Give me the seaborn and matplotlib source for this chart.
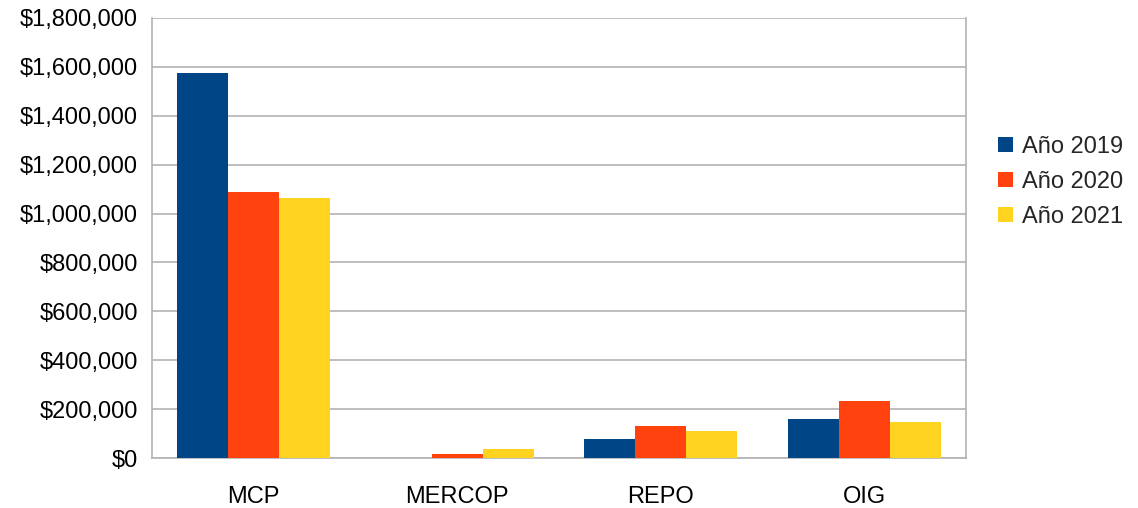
import seaborn as sns
import numpy as np
import pandas as pd
from matplotlib import pyplot as plt
from matplotlib.ticker import FuncFormatter, FixedLocator

categorias = ['MCP', 'MERCOP', 'REPO', 'OIG']
anios = ['Año 2019', 'Año 2020', 'Año 2021']
valores_2019 = [1573000, 0, 79000, 158000]
valores_2020 = [1089000, 16000, 130000, 233000]
valores_2021 = [1062000, 37000, 109000, 147000]
colores = ['#004586', '#ff420e', '#ffd320']

df = pd.DataFrame({
    'categoria': categorias * 3,
    'anio': [a for a in anios for _ in categorias],
    'valor': valores_2019 + valores_2020 + valores_2021,
})

sns.set_style('white')
plt.rcParams['font.family'] = ['Liberation Sans', 'DejaVu Sans']

fs = 17
fig = plt.figure(figsize=(11.38, 5.08), dpi=100)
ax = fig.add_axes([0.1336, 0.0984, 0.7153, 0.8662])

sns.barplot(data=df, x='categoria', y='valor', hue='anio', palette=colores,
            width=0.75, gap=0, saturation=1, errorbar=None, linewidth=0,
            ax=ax, zorder=3)

ax.set_ylim(0, 1800000)
ax.set_xlim(-0.5, 3.5)
ax.set_yticks(np.arange(0, 1800001, 200000))
ax.yaxis.set_major_formatter(FuncFormatter(lambda v, p: '${:,.0f}'.format(v)))
ax.grid(axis='y', color='#b3b3b3', linewidth=1.2, zorder=0)
ax.set_axisbelow(True)

# category boundaries as minor ticks, labels centred
ax.xaxis.set_minor_locator(FixedLocator([-0.5, 0.5, 1.5, 2.5, 3.5]))
ax.tick_params(axis='x', which='major', length=0, labelsize=fs, pad=20, labelcolor='black')
ax.tick_params(axis='x', which='minor', length=7, width=1.2, color='#b3b3b3', direction='out')
ax.tick_params(axis='y', which='major', length=7, width=1.2, color='#b3b3b3',
               direction='out', labelsize=fs, pad=3, labelcolor='black')
for s in ax.spines.values():
    s.set_color('#b3b3b3')
    s.set_linewidth(1.2)
ax.spines['top'].set_visible(False)

ax.set_xlabel('')
ax.set_ylabel('')

handles, labels = ax.get_legend_handles_labels()
ax.legend(handles, labels, loc='center left', bbox_to_anchor=(0.877, 0.642),
          bbox_transform=fig.transFigure, frameon=False, fontsize=fs,
          handlelength=0.62, handleheight=0.62, handletextpad=0.4, labelspacing=0.55,
          borderpad=0, borderaxespad=0)

fig.savefig('out.png', dpi=100)
